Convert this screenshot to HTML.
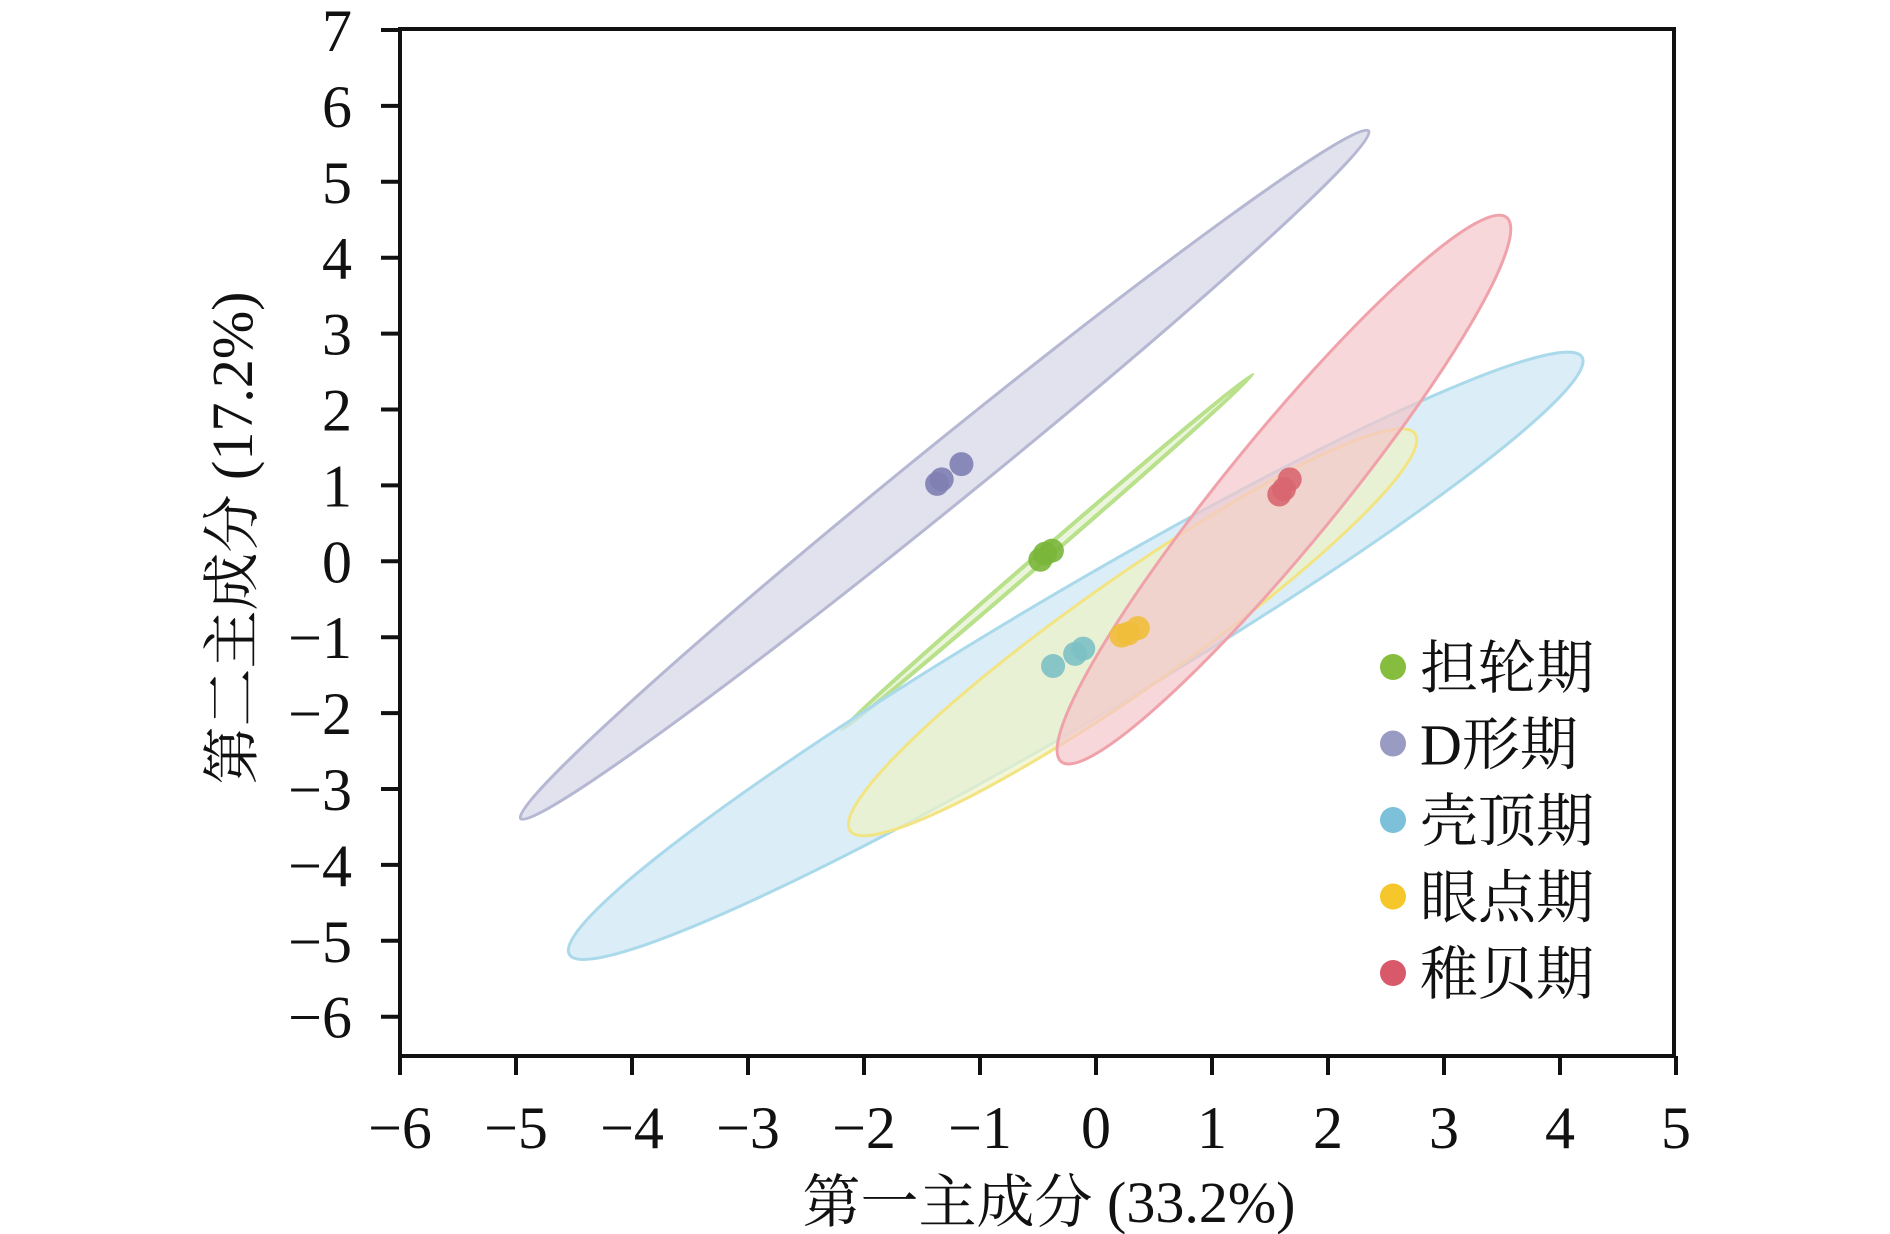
<!DOCTYPE html>
<html><head><meta charset="utf-8"><style>
html,body{margin:0;padding:0;background:#fff;}
svg{display:block;}
text{font-family:"Liberation Serif","Noto Serif CJK SC",serif;fill:#111;}
</style></head><body>
<svg id="chart" width="1890" height="1234" viewBox="0 0 1890 1234" xmlns="http://www.w3.org/2000/svg">
<g id="ellipses"></g>
<g id="points"></g>
<rect x="400" y="29" width="1274" height="1027" fill="none" stroke="#111" stroke-width="4"/>
<g id="axes"></g>
<text x="1049" y="1222" font-size="58" text-anchor="middle">第一主成分 (33.2%)</text>
<text x="0" y="0" font-size="58" text-anchor="middle" transform="translate(252,538) rotate(-90)">第二主成分 (17.2%)</text>
<g id="legend"></g>
</svg>
<script>
const groups = ["担轮期","D形期","壳顶期","眼点期","稚贝期"];
const xTicks = [-6,-5,-4,-3,-2,-1,0,1,2,3,4,5];
const yTicks = [-6,-5,-4,-3,-2,-1,0,1,2,3,4,5,6,7];
// ellipse major-axis endpoints (data units) and minor semi-axis (data-ish, in x units)
const ellStartX = [-2.19,-4.96,-4.54,-2.12,-0.30];
const ellStartY = [-2.22,-3.39,-5.18,-3.55,-2.64];
const ellEndX = [1.35,2.35,4.19,2.75,3.54];
const ellEndY = [2.46,5.67,2.69,1.68,4.53];
const ellMinor = [0.04,0.26,0.55,0.47,0.48];
const ptsX = [[-0.48,-0.38,-0.44],[-1.37,-1.33,-1.16],[-0.37,-0.18,-0.11],[0.22,0.28,0.36],[1.58,1.67,1.62]];
const ptsY = [[0.02,0.14,0.10],[1.02,1.08,1.28],[-1.38,-1.22,-1.15],[-0.98,-0.95,-0.88],[0.88,1.08,0.95]];

const fills=["#dcefc4","#d9dbe8","#cfe7f3","#eef2c6","#f4c6cb"];
const strokes=["#b9e08a","#b5b7d3","#a9d9ea","#f3e483","#f0a2ab"];
const fillOp=[0.6,0.8,0.75,0.7,0.7];
const ptCol=["#7ab63a","#8080b3","#7cc0c4","#f0be3a","#d86670"];
const legCol=["#86bd3f","#9a9bc2","#7cc0da","#f5c72a","#d8596a"];

const X0=400, XU=116, Y7=30, YU=75.9;
const sx=v=>X0+(v+6)*XU;
const sy=v=>Y7+(7-v)*YU;
const NS="http://www.w3.org/2000/svg";
function mk(tag,parent){const e=document.createElementNS(NS,tag);parent.appendChild(e);return e;}

const eg=document.getElementById('ellipses');
for(let i=0;i<groups.length;i++){
  const x1=sx(ellStartX[i]),y1=sy(ellStartY[i]),x2=sx(ellEndX[i]),y2=sy(ellEndY[i]);
  const cx=(x1+x2)/2, cy=(y1+y2)/2;
  const rx=Math.hypot(x2-x1,y2-y1)/2;
  const ang=Math.atan2(y2-y1,x2-x1)*180/Math.PI;
  const e=mk('ellipse',eg);
  
  
  e.setAttribute('cx',cx);e.setAttribute('cy',cy);
  e.setAttribute('rx',rx);e.setAttribute('ry',ellMinor[i]*XU);
  e.setAttribute('transform','rotate('+ang+' '+cx+' '+cy+')');
  e.setAttribute('fill',fills[i]);e.setAttribute('fill-opacity',fillOp[i]);
  e.setAttribute('stroke',strokes[i]);e.setAttribute('stroke-width',i===0?4:3);
}
const pg=document.getElementById('points');
for(let i=0;i<groups.length;i++){
  for(let j=0;j<ptsX[i].length;j++){
    const c=mk('circle',pg);
    
    
    c.setAttribute('cx',sx(ptsX[i][j]));c.setAttribute('cy',sy(ptsY[i][j]));
    c.setAttribute('r',12);c.setAttribute('fill',ptCol[i]);c.setAttribute('fill-opacity',0.9);
  }
}
const ag=document.getElementById('axes');
xTicks.forEach(v=>{
  const l=mk('line',ag);
  
  
  l.setAttribute('x1',sx(v));l.setAttribute('x2',sx(v));l.setAttribute('y1',1056);l.setAttribute('y2',1075);
  l.setAttribute('stroke','#111');l.setAttribute('stroke-width',4);
  const t=mk('text',ag);
  
  
  t.setAttribute('x',sx(v));t.setAttribute('y',1148);t.setAttribute('font-size',60);t.setAttribute('text-anchor','middle');
  t.textContent=(v<0?'\u2212'+(-v):String(v));
});
yTicks.forEach(v=>{
  const l=mk('line',ag);
  
  
  l.setAttribute('x1',381);l.setAttribute('x2',400);l.setAttribute('y1',sy(v));l.setAttribute('y2',sy(v));
  l.setAttribute('stroke','#111');l.setAttribute('stroke-width',4);
  const t=mk('text',ag);
  
  
  t.setAttribute('x',352);t.setAttribute('y',sy(v)+21);t.setAttribute('font-size',60);t.setAttribute('text-anchor','end');
  t.textContent=(v<0?'\u2212'+(-v):String(v));
});
const lg=document.getElementById('legend');
groups.forEach((g,i)=>{
  const y=667+i*76.5;
  const c=mk('circle',lg);
  
  
  c.setAttribute('cx',1393);c.setAttribute('cy',y);c.setAttribute('r',13);c.setAttribute('fill',legCol[i]);
  const t=mk('text',lg);
  
  
  t.setAttribute('x',1420);t.setAttribute('y',y+21);t.setAttribute('font-size',58);
  t.textContent=g;
});
</script>
</body></html>
